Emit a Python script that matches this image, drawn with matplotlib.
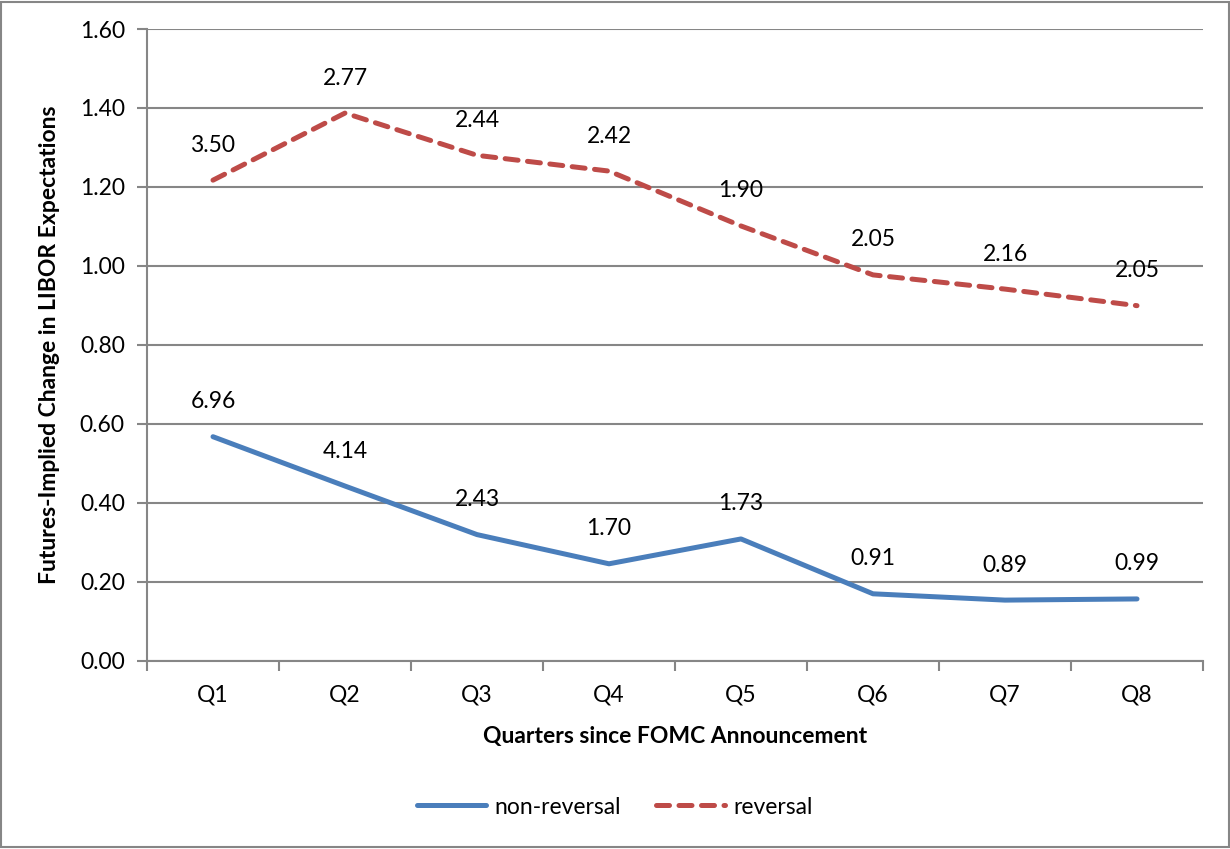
import matplotlib.pyplot as plt
from matplotlib.ticker import FixedLocator, NullFormatter

plt.rcParams['font.family'] = ['Lato', 'DejaVu Sans']

quarters = ['Q1', 'Q2', 'Q3', 'Q4', 'Q5', 'Q6', 'Q7', 'Q8']
non_reversal = [0.567, 0.442, 0.319, 0.245, 0.308, 0.169, 0.153, 0.156]
reversal = [1.217, 1.387, 1.280, 1.240, 1.101, 0.977, 0.941, 0.899]
non_reversal_labels = ['6.96', '4.14', '2.43', '1.70', '1.73', '0.91', '0.89', '0.99']
reversal_labels = ['3.50', '2.77', '2.44', '2.42', '1.90', '2.05', '2.16', '2.05']

blue = '#4a7ebb'
red = '#be4b48'
grey = '#868686'
fs = 16.5

fig = plt.figure(figsize=(12.30, 8.49), dpi=100)
ax = fig.add_axes([147 / 1230, 1 - 660.5 / 849, 1056 / 1230, 631.5 / 849])

x = list(range(len(quarters)))
ax.plot(x, non_reversal, color=blue, lw=3.6, solid_capstyle='round',
        solid_joinstyle='round', label='non-reversal', zorder=3)
ax.plot(x, reversal, color=red, lw=3.6, dashes=(2.6, 1.9),
        dash_capstyle='round', label='reversal', zorder=3)

for xi, yi, t in zip(x, non_reversal, non_reversal_labels):
    ax.annotate(t, (xi, yi), xytext=(0, 35), textcoords='offset pixels',
                ha='center', va='center', fontsize=fs)
for xi, yi, t in zip(x, reversal, reversal_labels):
    ax.annotate(t, (xi, yi), xytext=(0, 35), textcoords='offset pixels',
                ha='center', va='center', fontsize=fs)

ax.set_xlim(-0.5, len(quarters) - 0.5)
ax.set_ylim(0, 1.6)
ax.set_yticks([i * 0.2 for i in range(9)])
ax.set_yticklabels([f'{i * 0.2:.2f}' for i in range(9)], fontsize=fs)
ax.set_xticks(x)
ax.set_xticklabels(quarters, fontsize=fs)
ax.tick_params(axis='x', length=0, pad=17)
ax.xaxis.set_minor_locator(FixedLocator([i - 0.5 for i in range(len(quarters) + 1)]))
ax.xaxis.set_minor_formatter(NullFormatter())
ax.tick_params(axis='x', which='minor', length=7, width=1.5, color=grey, direction='out')
ax.tick_params(axis='y', length=7, width=1.5, color=grey, pad=9)

ax.grid(axis='y', color=grey, lw=1.5)
ax.set_axisbelow(True)
for s in ['top', 'right']:
    ax.spines[s].set_visible(False)
for s in ['left', 'bottom']:
    ax.spines[s].set_color(grey)
    ax.spines[s].set_linewidth(1.5)

ax.set_xlabel('Quarters since FOMC Announcement', fontsize=fs,
              fontweight='bold', labelpad=15)
ax.set_ylabel('Futures-Implied Change in LIBOR Expectations', fontsize=fs,
              fontweight='bold', labelpad=14)

fig.legend(loc='center', bbox_to_anchor=(0.5, 1 - 807 / 849), ncol=2,
           frameon=False, fontsize=fs, handlelength=3.0, columnspacing=1.5,
           handletextpad=0.4)

fig.patches.append(plt.Rectangle((0.001, 0.002), 0.998, 0.996, transform=fig.transFigure,
                                 fill=False, edgecolor=grey, lw=1.5))

fig.savefig('out.png', dpi=100)
